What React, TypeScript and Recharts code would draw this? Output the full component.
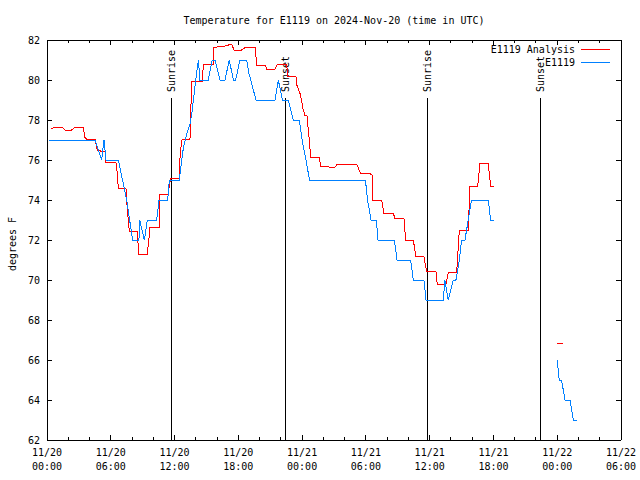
import { LineChart, Line, XAxis, YAxis, ReferenceLine, Customized } from 'recharts';

// hours since 2024-11-20 00:00 UTC
const analysisHours = [
  0.44, 0.6, 1.47, 1.69, 2.32, 2.63, 3.42, 3.57, 3.73, 4.52, 4.74, 5.46, 5.52, 6.49, 6.62, 6.71,
  7.43, 7.56, 7.75, 8.5, 8.62, 9.44, 9.56, 9.69, 10.54, 10.63, 11.41, 11.51, 11.66, 12.45, 12.51,
  12.67, 13.45, 13.61, 14.61, 14.71, 15.64, 15.71, 16.74, 17.28, 17.4, 17.6, 18.3, 18.65, 19.62,
  19.7, 20.55, 20.65, 21.45, 21.7, 22.54, 22.65, 23.42, 23.5, 23.8, 23.96, 24.11, 24.26, 24.45,
  24.55, 24.68, 24.8, 25.62, 25.74, 26.47, 26.55, 27.09, 27.3, 29.13, 29.5, 30.32, 30.6, 30.66,
  31.48, 31.7, 32.58, 32.74, 33.58, 33.74, 34.46, 34.71, 35.46, 35.71, 36.59, 36.71, 37.54, 37.75,
  38.54, 38.79, 39.63, 39.79, 40.51, 40.73, 41.51, 41.74, 42.05, 45, 47.95, 48.51,
];
const analysisTemps = [
  77.55, 77.63, 77.63, 77.5, 77.5, 77.63, 77.63, 77.12, 77.05, 77.05, 76.47, 76.42, 75.88, 75.88,
  75.28, 74.58, 74.58, 73.5, 72.42, 72.42, 71.3, 71.3, 71.92, 72.63, 72.63, 74.3, 74.3, 74.75,
  75.08, 75.08, 76.08, 77.0, 77.05, 79.92, 79.92, 80.8, 80.8, 81.63, 81.7, 81.78, 81.75, 81.5,
  81.5, 81.63, 81.63, 80.75, 80.75, 80.55, 80.55, 80.8, 80.8, 80.2, 80.2, 79.75, 79.33, 78.92,
  78.5, 78.25, 78.25, 77.67, 77.0, 76.13, 76.13, 75.7, 75.7, 75.63, 75.63, 75.8, 75.8, 75.33,
  75.33, 75.25, 74.0, 74.0, 73.33, 73.33, 73.08, 73.08, 72.0, 72.0, 71.17, 71.17, 70.42, 70.42,
  69.8, 69.8, 70.37, 70.37, 72.5, 72.5, 74.67, 74.67, 75.83, 75.83, 74.7, 74.7, null, 66.83, 66.83,
];

const stationHours = [
  0.22, 4.52, 4.83, 5.14, 5.36, 5.55, 6.71, 7.5, 8.05, 8.65, 8.72, 9.16, 9.44, 10.32, 10.54, 11.35,
  11.51, 12.45, 12.67, 12.83, 13.14, 13.45, 13.61, 13.99, 14.24, 14.39, 15.17, 15.55, 15.8, 16.27,
  16.74, 17.15, 17.53, 17.75, 18.15, 18.78, 19.0, 19.66, 21.45, 21.76, 22.15, 22.7, 23.17, 23.74,
  24.0, 24.36, 24.7, 29.96, 30.15, 30.49, 30.99, 31.14, 32.68, 32.93, 34.21, 34.46, 35.46, 35.66,
  37.28, 37.43, 37.75, 38.22, 38.47, 38.79, 39.0, 39.32, 39.63, 39.94, 41.51, 41.74, 42.05, 45,
  48.0, 48.19, 48.41, 48.73, 49.2, 49.52, 49.83,
];
const stationTemps = [
  77, 77, 76.5, 76, 77, 76, 76, 74, 72, 72, 73, 72, 73, 73, 74, 74,
  75, 75, 76, 76.6, 77.3, 77.8, 78.25, 80, 81, 80, 80, 81, 81, 80,
  80, 81, 80, 80, 81, 81, 80.33, 79, 79, 80, 79, 79, 78, 78,
  77, 76, 75, 75, 74, 73, 73, 72, 72, 71, 71, 70, 70, 69,
  69, 70, 69, 70, 70, 71, 72, 72, 73, 74, 74, 73, 73, null,
  66, 65, 65, 64, 64, 63, 63,
];

const xTickHours = [0, 2, 4, 6, 8, 10, 12, 14, 16, 18, 20, 22, 24, 26, 28, 30, 32, 34, 36, 38, 40, 42, 44, 46, 48, 50, 52, 54];
const xTickDates = ['11/20', '11/20', '11/20', '11/20', '11/21', '11/21', '11/21', '11/21', '11/22', '11/22'];
const xTickTimes = ['00:00', '06:00', '12:00', '18:00', '00:00', '06:00', '12:00', '18:00', '00:00', '06:00'];
const yTicks = [62, 64, 66, 68, 70, 72, 74, 76, 78, 80, 82];

const sunLabels = ['Sunrise', 'Sunset', 'Sunrise', 'Sunset'];
const sunHours = [11.73, 22.42, 35.75, 46.44];
const sunLineTop = 79.1;

const FONT = '"DejaVu Sans Mono", monospace';
const RED = '#ff0000';
const BLUE = '#0080ff';

const analysis = analysisHours.map((h, i) => ({ h, t: analysisTemps[i] }));
const station = stationHours.map((h, i) => ({ h, t: stationTemps[i] }));

function BottomTick(props: any) {
  const { x, y, payload } = props;
  const h = payload.value;
  const major = h % 6 === 0;
  const idx = h / 6;
  return (
    <g>
      <line x1={x} y1={y} x2={x} y2={y - (major ? 5 : 3)} stroke="#000" />
      {major && (
        <text x={x} y={y + 16} textAnchor="middle" fontFamily={FONT} fontSize={10} fill="#000">
          <tspan x={x}>{xTickDates[idx]}</tspan>
          <tspan x={x} dy={14}>{xTickTimes[idx]}</tspan>
        </text>
      )}
    </g>
  );
}

function TopTick(props: any) {
  const { x, y, payload } = props;
  const major = payload.value % 6 === 0;
  return <line x1={x} y1={y} x2={x} y2={y + (major ? 5 : 3)} stroke="#000" />;
}

function LeftTick(props: any) {
  const { x, y, payload } = props;
  return (
    <g>
      <line x1={x} y1={y} x2={x + 5} y2={y} stroke="#000" />
      <text x={x - 7} y={y} dy={3.5} textAnchor="end" fontFamily={FONT} fontSize={10} fill="#000">
        {payload.value}
      </text>
    </g>
  );
}

function RightTick(props: any) {
  const { x, y } = props;
  return <line x1={x} y1={y} x2={x - 5} y2={y} stroke="#000" />;
}

function SunLabel(props: any) {
  const { viewBox, text } = props;
  const x = viewBox.x;
  const y = viewBox.y - 6;
  return (
    <text
      x={x}
      y={y}
      transform={`rotate(-90 ${x} ${y})`}
      textAnchor="start"
      dominantBaseline="central"
      fontFamily={FONT}
      fontSize={10}
      fill="#000"
    >
      {text}
    </text>
  );
}

function Decor() {
  return (
    <g fontFamily={FONT} fontSize={10} fill="#000">
      <text x={334} y={24} textAnchor="middle">
        Temperature for E1119 on 2024-Nov-20 (time in UTC)
      </text>
      <text x={12} y={244} transform="rotate(-90 12 244)" textAnchor="middle" dominantBaseline="central">
        degrees F
      </text>
      <text x={575} y={49} textAnchor="end" dominantBaseline="central">E1119 Analysis</text>
      <line x1={581} y1={49.5} x2={610} y2={49.5} stroke={RED} />
      <text x={575} y={62} textAnchor="end" dominantBaseline="central">E1119</text>
      <line x1={581} y1={62.5} x2={610} y2={62.5} stroke={BLUE} />
    </g>
  );
}

export default function App() {
  return (
    <div style={{ position: 'absolute', left: 0, top: 0, width: 640, height: 480, background: '#fff', shapeRendering: 'crispEdges' }}>
      <LineChart width={640} height={480} margin={{ top: 0, right: 0, bottom: 0, left: 0 }}>
        <XAxis
          xAxisId="b"
          dataKey="h"
          type="number"
          domain={[0, 54]}
          allowDataOverflow
          ticks={xTickHours}
          interval={0}
          height={40}
          tickSize={0}
          tickMargin={0}
          tickLine={false}
          axisLine={{ stroke: '#000' }}
          tick={<BottomTick />}
        />
        <XAxis
          xAxisId="t"
          orientation="top"
          dataKey="h"
          type="number"
          domain={[0, 54]}
          allowDataOverflow
          ticks={xTickHours}
          interval={0}
          height={40}
          tickSize={0}
          tickMargin={0}
          tickLine={false}
          axisLine={{ stroke: '#000' }}
          tick={<TopTick />}
        />
        <YAxis
          yAxisId="l"
          type="number"
          domain={[62, 82]}
          allowDataOverflow
          ticks={yTicks}
          interval={0}
          width={47}
          tickSize={0}
          tickMargin={0}
          tickLine={false}
          axisLine={{ stroke: '#000' }}
          tick={<LeftTick />}
        />
        <YAxis
          yAxisId="r"
          orientation="right"
          type="number"
          domain={[62, 82]}
          allowDataOverflow
          ticks={yTicks}
          interval={0}
          width={19}
          tickSize={0}
          tickMargin={0}
          tickLine={false}
          axisLine={{ stroke: '#000' }}
          tick={<RightTick />}
        />
        {sunHours.map((h, i) => (
          <ReferenceLine
            key={i}
            xAxisId="b"
            yAxisId="l"
            segment={[{ x: h, y: 62 }, { x: h, y: sunLineTop }]}
            stroke="#000"
            ifOverflow="visible"
            label={<SunLabel text={sunLabels[i]} />}
          />
        ))}
        <Line
          xAxisId="b"
          yAxisId="l"
          data={analysis}
          dataKey="t"
          type="linear"
          stroke={RED}
          strokeWidth={1}
          dot={false}
          activeDot={false}
          connectNulls={false}
          isAnimationActive={false}
        />
        <Line
          xAxisId="b"
          yAxisId="l"
          data={station}
          dataKey="t"
          type="linear"
          stroke={BLUE}
          strokeWidth={1}
          dot={false}
          activeDot={false}
          connectNulls={false}
          isAnimationActive={false}
        />
        <Customized component={<Decor />} />
      </LineChart>
    </div>
  );
}
